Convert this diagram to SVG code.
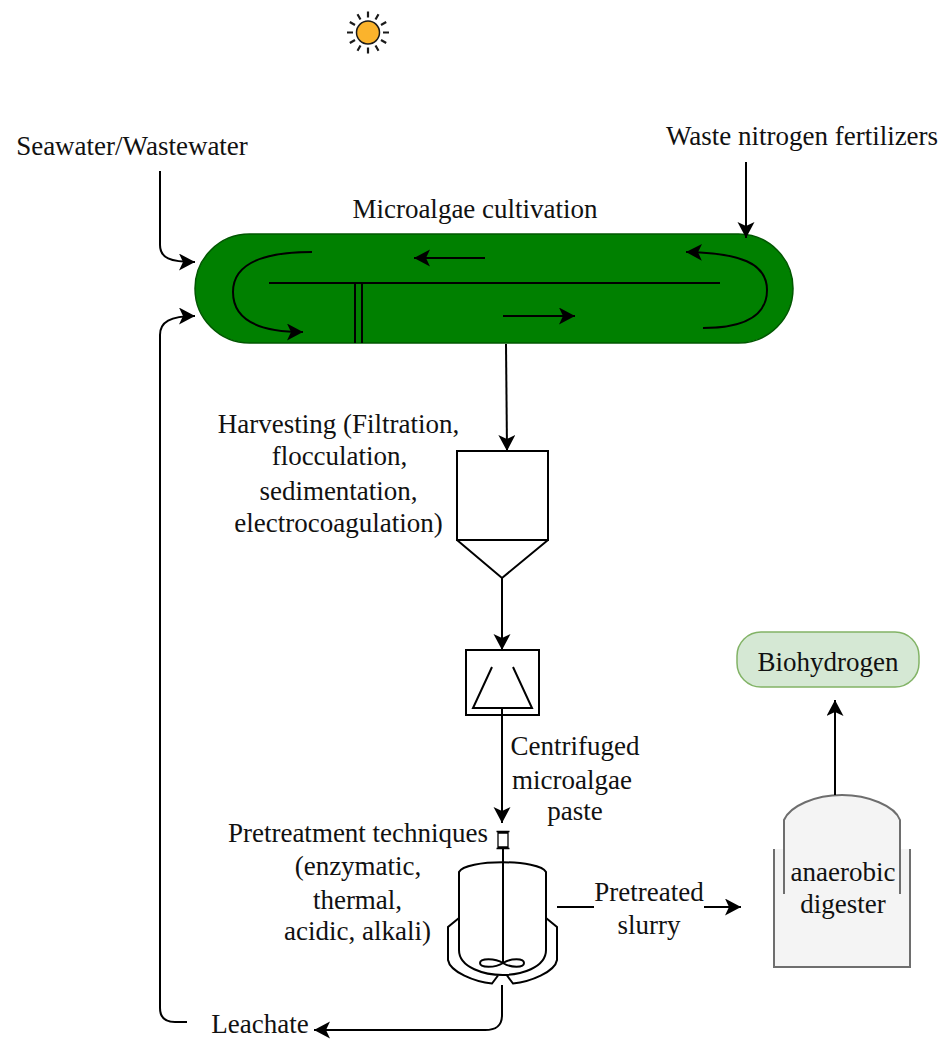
<svg xmlns="http://www.w3.org/2000/svg" width="943" height="1039" viewBox="0 0 943 1039">
<defs>
<marker id="arr" markerUnits="userSpaceOnUse" markerWidth="18" markerHeight="18" refX="16" refY="8.500" orient="auto"><path d="M0,0 L16,8.500 L0,17 L4,8.500 Z" fill="#000"/></marker>
</defs>
<style>
text{font-family:"Liberation Serif","Times New Roman",serif;font-size:27px;fill:#111;text-anchor:middle}
.l{fill:none;stroke:#000;stroke-width:2}
.t{fill:none;stroke:#000;stroke-width:1.300}
.c{fill:none;stroke:#000;stroke-width:2;marker-end:url(#arr)}
.g{fill:none;stroke:#6e6e6e;stroke-width:2}
</style>
<rect width="943" height="1039" fill="#fff"/>
<g id="sun">
<circle cx="368" cy="32.500" r="11.500" fill="#fbb32c" stroke="#1a1a1a" stroke-width="1.500"/>
<path d="M368,17.500V11.500M375.500,19.500L378.500,14.300M381,25L386.200,22M383,32.500H389M381,40L386.200,43M375.500,45.500L378.500,50.700M368,47.500V53.500M360.500,45.500L357.500,50.700M355,40L349.800,43M353,32.500H347M355,25L349.800,22M360.500,19.500L357.500,14.300" stroke="#1a1a1a" stroke-width="2.200" fill="none"/>
</g>
<g id="raceway">
<rect x="195" y="234" width="598" height="109" rx="54.500" fill="#008000" stroke="#005700" stroke-width="1.500"/>
<path class="l" d="M269,283H720M355,284V343M362,284V343"/>
<path class="c" d="M312,252C265,252 233,262 233,292C233,323 265,332 303,332"/>
<path class="c" d="M703,328C745,328 767,315 767,290C767,263 740,253 686,252"/>
<path class="c" d="M485,258H414"/>
<path class="c" d="M503,316H575"/>
<text x="475" y="218">Microalgae cultivation</text>
</g>
<g id="seawater"><text x="132" y="155">Seawater/Wastewater</text></g>
<g id="fertilizers"><text x="802" y="145">Waste nitrogen fertilizers</text></g>
<g id="harvester">
<path class="l" d="M457,451H548V540H457ZM457,540L502,578L548,540"/>
<text x="338.500" y="433">Harvesting (Filtration,</text>
<text x="339.500" y="465">flocculation,</text>
<text x="338.500" y="500">sedimentation,</text>
<text x="338.500" y="532">electrocoagulation)</text>
</g>
<g id="centrifuge">
<rect class="l" x="466" y="650" width="73" height="65"/>
<path class="l" d="M492,667L473,708H532L513,667"/>
</g>
<g id="reactor">
<path class="t" d="M498,833H508V847H498ZM496.500,831.500H509.500M496.500,848.500H509.500"/>
<path class="l" d="M503,849V963"/>
<path class="l" d="M459,872C465,859 540,859 546,872V950C546,968 520,975 503,975C485,975 459,968 459,950Z"/>
<path class="l" d="M459,918L448,927V960C450,972 475,982 492,983.500L498,975.500M546,918L557,927V960C555,972 530,982 513,983.500L507,975.500"/>
<path class="l" d="M503,963C495,958 480,958 480,963C480,968 495,968 503,963C511,958 524,958 524,963C524,968 511,968 503,963Z"/>
<text x="358" y="842">Pretreatment techniques</text>
<text x="358" y="875">(enzymatic,</text>
<text x="357.500" y="909">thermal,</text>
<text x="357.500" y="940">acidic, alkali)</text>
</g>
<g id="digester">
<path d="M784,849V820C790,806 815,795 842,795C868,795 895,806 900,820V849H910V967H774V849Z" fill="#f4f4f4"/>
<path class="g" d="M774,849V967H910V849M784,894V820C790,806 815,795 842,795C868,795 895,806 900,820V894"/>
<text x="843" y="881">anaerobic</text>
<text x="843" y="913">digester</text>
</g>
<g id="biohydrogen">
<rect x="737" y="632" width="182" height="55" rx="24" fill="#d5e8d4" stroke="#82b366" stroke-width="1.500"/>
<text x="828" y="671">Biohydrogen</text>
</g>
<g id="connectors">
<path class="c" d="M160,171V245C160,258 170,262 195,262"/>
<path class="c" d="M746,162V238"/>
<path class="c" d="M506,344L507,451"/>
<path class="c" d="M502,578V650"/>
<path class="c" d="M502,708V823"/>
<path class="l" d="M557,907H594"/>
<path class="c" d="M704,907H741"/>
<path class="c" d="M835,795V700"/>
<path class="c" d="M502,985V1015C502,1027 495,1030 485,1030H314"/>
<path class="c" d="M187,1022H175C165,1022 160,1017 160,1008V335C160,322 170,316 195,316"/>
</g>
<g id="labels">
<text x="575" y="755">Centrifuged</text>
<text x="572" y="789">microalgae</text>
<text x="575" y="820">paste</text>
<text x="649" y="901">Pretreated</text>
<text x="649" y="934">slurry</text>
<text x="260" y="1033">Leachate</text>
</g>
</svg>
